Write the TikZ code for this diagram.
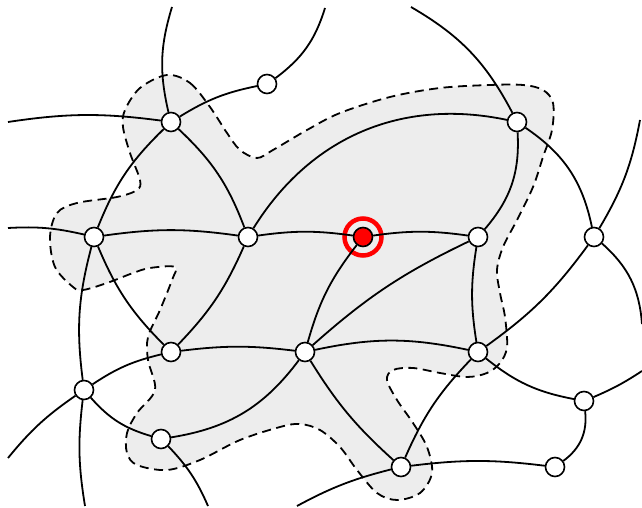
\documentclass[tikz,border=0pt]{standalone}
\usepackage{xcolor}
\usepackage{tikz}
\usetikzlibrary{positioning}
\definecolor{regiongray}{RGB}{237,237,237}
\definecolor{markred}{RGB}{255,0,0}

\begin{document}
\begin{tikzpicture}[
      x=1pt, y=1pt,
      vertex/.style={circle, draw, fill=white, line width=1.6pt,
                     minimum size=19pt, inner sep=0pt},
      seed/.style={vertex, fill=markred},
      halo/.style={circle, draw=markred, line width=4.5pt,
                   minimum size=37pt, inner sep=0pt},
      link/.style={line width=1.8pt},
      region/.style={fill=regiongray, draw, line width=1.8pt,
                     dash pattern=on 9pt off 5.5pt}
    ]
    \useasboundingbox (0,0) rectangle (642,508);

    \draw[region] plot[smooth cycle, tension=0.55] coordinates {
      (167,433) (190,425) (210,401) (227,375) (240,358) (257,350) (273,358)
      (307,378) (340,395) (390,411) (440,420) (490,423) (523,423) (543,418)
      (553,405) (552,378) (543,351) (533,321) (517,288) (503,261) (497,238)
      (500,215) (505,191) (507,161) (500,145) (487,135) (467,131) (440,135)
      (413,140) (393,138) (387,128) (397,108) (413,85) (427,61) (432,35)
      (420,15) (397,8) (377,15) (357,38) (340,61) (320,78) (300,84) (280,81)
      (240,68) (200,48) (167,38) (137,43) (127,55) (127,75) (137,95)
      (155,118) (148,148) (148,171) (160,198) (172,228) (175,241) (150,240)
      (133,235) (107,225) (83,218) (73,221) (55,241) (50,271) (57,295)
      (77,305) (117,311) (137,318) (140,328) (130,355) (123,381) (125,398)
      (140,420)};

    \node[vertex] (A) at (171,386) {};
    \node[vertex] (B) at (267,424) {};
    \node[vertex] (C) at (94,271) {};
    \node[vertex] (D) at (248,271) {};
    \node[seed]   (E) at (363,271) {};
    \node[vertex] (F) at (478,271) {};
    \node[vertex] (G) at (517,386) {};
    \node[vertex] (H) at (594,271) {};
    \node[vertex] (I) at (171,156) {};
    \node[vertex] (J) at (305,156) {};
    \node[vertex] (K) at (478,156) {};
    \node[vertex] (L) at (84,118) {};
    \node[vertex] (M) at (161,69) {};
    \node[vertex] (N) at (401,41) {};
    \node[vertex] (O) at (584,107) {};
    \node[vertex] (P) at (555,41) {};
    \node[halo]   (Eh) at (E) {};

    \coordinate (a1) at (172,501);
    \coordinate (a2) at (8,386);
    \coordinate (b1) at (325,500);
    \coordinate (c1) at (8,280);
    \coordinate (g1) at (411,501);
    \coordinate (h1) at (640,388);
    \coordinate (h2) at (642,184);
    \coordinate (o1) at (642,137);
    \coordinate (l1) at (8,50);
    \coordinate (l2) at (85,2);
    \coordinate (m1) at (208,2);
    \coordinate (n1) at (297,2);

    \draw[link] (A) to[bend left=15] (a1);
    \draw[link] (A) to[bend right=8] (a2);
    \draw[link] (A) to[bend left=10] (B);
    \draw[link] (B) to[bend right=18] (b1);
    \draw[link] (A) to[bend right=12] (C);
    \draw[link] (A) to[bend left=13] (D);
    \draw[link] (C) to[bend right=8] (c1);
    \draw[link] (C) to[bend left=8] (D);
    \draw[link] (D) to[bend left=35] (G);
    \draw[link] (D) to[bend left=8] (E);
    \draw[link] (E) to[bend left=8] (F);
    \draw[link] (G) to[bend left=22] (F);
    \draw[link] (G) to[bend left=22] (H);
    \draw[link] (G) to[bend right=16] (g1);
    \draw[link] (H) to[bend right=10] (h1);
    \draw[link] (H) to[bend left=22] (h2);
    \draw[link] (H) to[bend left=9] (K);
    \draw[link] (C) to[bend right=11] (I);
    \draw[link] (C) to[bend right=11] (L);
    \draw[link] (D) to[bend left=10] (I);
    \draw[link] (I) to[bend left=7] (J);
    \draw[link] (I) to[bend right=10] (L);
    \draw[link] (L) to[bend right=8] (l1);
    \draw[link] (L) to[bend right=8] (l2);
    \draw[link] (L) to[bend right=16] (M);
    \draw[link] (M) to[bend left=10] (m1);
    \draw[link] (M) to[bend right=22] (J);
    \draw[link] (E) to[bend right=11] (J);
    \draw[link] (J) to[bend left=8] (F);
    \draw[link] (J) to[bend left=12] (K);
    \draw[link] (J) to[bend right=8] (N);
    \draw[link] (F) to[bend right=9] (K);
    \draw[link] (K) to[bend right=10] (N);
    \draw[link] (K) to[bend right=14] (O);
    \draw[link] (O) to[bend right=5] (o1);
    \draw[link] (O) to[bend left=30] (P);
    \draw[link] (N) to[bend left=7] (P);
    \draw[link] (N) to[bend right=7] (n1);
  \end{tikzpicture}
\end{document}
